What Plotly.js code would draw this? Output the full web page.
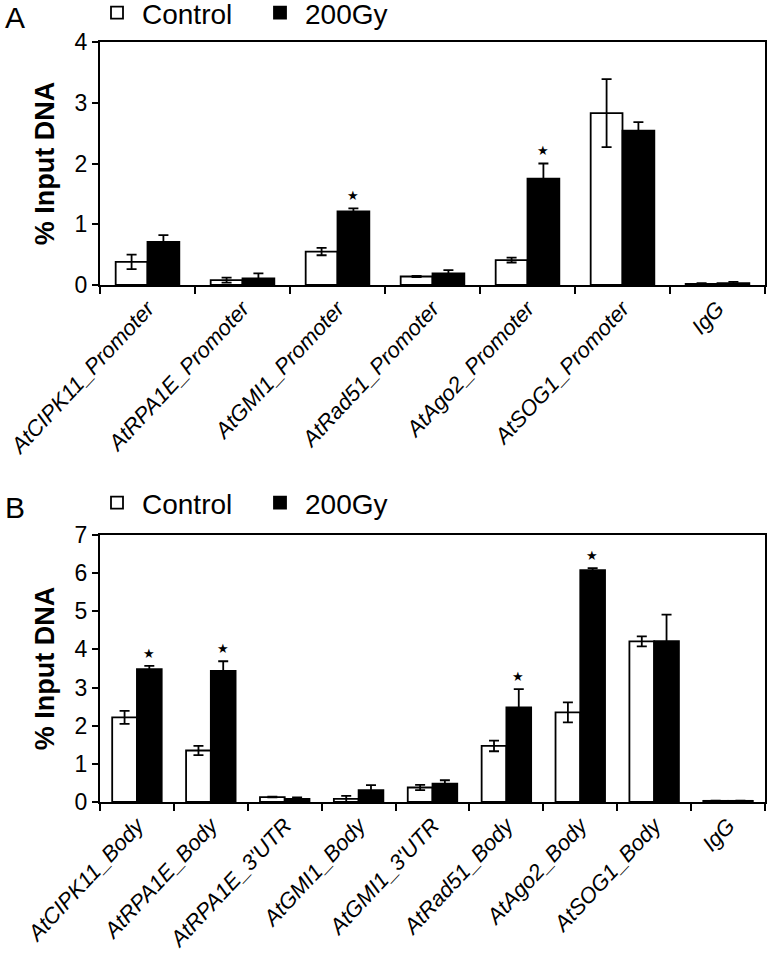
<!DOCTYPE html>
<html><head><meta charset="utf-8">
<script src="https://cdn.plot.ly/plotly-3.0.1.min.js"></script>
<style>html,body{margin:0;padding:0;background:#fff}#chart{width:769px;height:955px}</style>
</head><body><div id="chart"></div>
<script>
const catA = ['AtCIPK11_Promoter','AtRPA1E_Promoter','AtGMI1_Promoter','AtRad51_Promoter','AtAgo2_Promoter','AtSOG1_Promoter','IgG'];
const ctrlA = [0.38, 0.08, 0.55, 0.14, 0.41, 2.83, 0.02];
const ctrlAerr = [0.12, 0.04, 0.06, 0.01, 0.04, 0.56, 0.01];
const gyA = [0.71, 0.11, 1.21, 0.19, 1.75, 2.54, 0.03];
const gyAerr = [0.11, 0.08, 0.05, 0.055, 0.25, 0.14, 0.02];
const sigA = [false, false, true, false, true, false, false];

const catB = ['AtCIPK11_Body','AtRPA1E_Body',"AtRPA1E_3'UTR",'AtGMI1_Body',"AtGMI1_3'UTR",'AtRad51_Body','AtAgo2_Body','AtSOG1_Body','IgG'];
const ctrlB = [2.22, 1.35, 0.13, 0.08, 0.38, 1.47, 2.35, 4.21, 0.03];
const ctrlBerr = [0.17, 0.12, 0.01, 0.08, 0.07, 0.14, 0.26, 0.13, 0.005];
const gyB = [3.48, 3.44, 0.08, 0.31, 0.48, 2.48, 6.08, 4.22, 0.03];
const gyBerr = [0.09, 0.25, 0.04, 0.13, 0.09, 0.48, 0.05, 0.69, 0.005];
const sigB = [true, true, false, false, false, true, true, false, false];

const seriesNames = ['Control', '200Gy'];

const W = 769, H = 955;
const FONT = 'Arial, "Liberation Sans", sans-serif';
const px = (a, b) => [a / W, b / W];
const py = (top, bot) => [1 - bot / H, 1 - top / H];
const xdomA = px(100, 765), ydomA = py(42, 285);
const xdomB = px(100, 765), ydomB = py(535, 802);
const gapA = 0.33, gapB = 0.35;

function barTrace(name, cats, vals, errs, fill, xa, ya, leg, show) {
  return {
    type: 'bar', name: name, x: cats, y: vals, xaxis: xa, yaxis: ya,
    legend: leg, showlegend: show,
    marker: {color: fill, line: {color: '#000', width: 1.8}},
    error_y: {type: 'data', array: errs, visible: true, color: '#000', thickness: 1.8, width: 5}
  };
}

const data = [
  barTrace(seriesNames[0], catA, ctrlA, ctrlAerr, '#fff', 'x', 'y', 'legend', true),
  barTrace(seriesNames[1], catA, gyA, gyAerr, '#000', 'x', 'y', 'legend', true),
  barTrace(seriesNames[0], catB, ctrlB, ctrlBerr, '#fff', 'x2', 'y2', 'legend2', true),
  barTrace(seriesNames[1], catB, gyB, gyBerr, '#000', 'x2', 'y2', 'legend2', true)
];

function stars(cats, vals, errs, sig, xa, ya, xdom, gap) {
  const catPx = (xdom[1] - xdom[0]) * W / cats.length;
  const barPx = catPx * (1 - gap) / 2;
  const out = [];
  cats.forEach((c, i) => {
    if (!sig[i]) return;
    out.push({x: c, y: vals[i] + errs[i], xref: xa, yref: ya, text: '★', showarrow: false,
      xshift: barPx / 2, yanchor: 'bottom', yshift: 3, font: {size: 13, color: '#000', family: 'DejaVu Sans'}});
  });
  return out;
}

function xaxis(dom, anchor) {
  return {domain: dom, anchor: anchor, type: 'category', showline: true, mirror: true, linecolor: '#000', linewidth: 2,
    ticks: 'outside', tickson: 'boundaries', ticklen: 7, tickwidth: 2, tickcolor: '#000', showgrid: false,
    tickangle: -47, tickfont: {family: FONT, size: 22, color: '#000', style: 'italic'}, ticklabelstandoff: 0, fixedrange: true};
}
function yaxis(dom, anchor, max) {
  return {domain: dom, anchor: anchor, range: [0, max], dtick: 1, showline: true, mirror: true, linecolor: '#000', linewidth: 2,
    ticks: 'outside', ticklen: 6, tickwidth: 2, tickcolor: '#000', showgrid: false, zeroline: false,
    tickfont: {family: FONT, size: 23, color: '#000'},
    title: {text: '<b>% Input DNA</b>', font: {family: FONT, size: 27, color: '#000'}, standoff: 12}, fixedrange: true};
}

const legendBase = {orientation: 'h', font: {family: FONT, size: 28, color: '#000'}, bgcolor: 'rgba(0,0,0,0)',
  xanchor: 'left', yanchor: 'middle', itemwidth: 40, entrywidth: 108, entrywidthmode: 'pixels', tracegroupgap: 0, itemclick: false};

const layout = {
  width: W, height: H, margin: {l: 0, r: 0, t: 0, b: 0, autoexpand: false},
  paper_bgcolor: '#fff', plot_bgcolor: '#fff', showlegend: true,
  barmode: 'group', bargap: gapA, bargroupgap: 0,
  xaxis: xaxis(xdomA, 'y'), yaxis: yaxis(ydomA, 'x', 4),
  xaxis2: xaxis(xdomB, 'y2'), yaxis2: yaxis(ydomB, 'x2', 7),
  legend: Object.assign({}, legendBase, {x: 92 / W, y: 1 - 13 / H}),
  legend2: Object.assign({}, legendBase, {x: 92 / W, y: 1 - 503 / H}),
  annotations: [
    {text: 'A', x: 3 / W, y: 1 - 18 / H, xref: 'paper', yref: 'paper', xanchor: 'left', yanchor: 'middle', showarrow: false, font: {family: FONT, size: 30, color: '#000'}},
    {text: 'B', x: 3 / W, y: 1 - 507 / H, xref: 'paper', yref: 'paper', xanchor: 'left', yanchor: 'middle', showarrow: false, font: {family: FONT, size: 30, color: '#000'}}
  ].concat(stars(catA, gyA, gyAerr, sigA, 'x', 'y', xdomA, gapA))
   .concat(stars(catB, gyB, gyBerr, sigB, 'x2', 'y2', xdomB, gapB))
};

Plotly.newPlot('chart', data, layout, {displayModeBar: false, staticPlot: true});
</script></body></html>
